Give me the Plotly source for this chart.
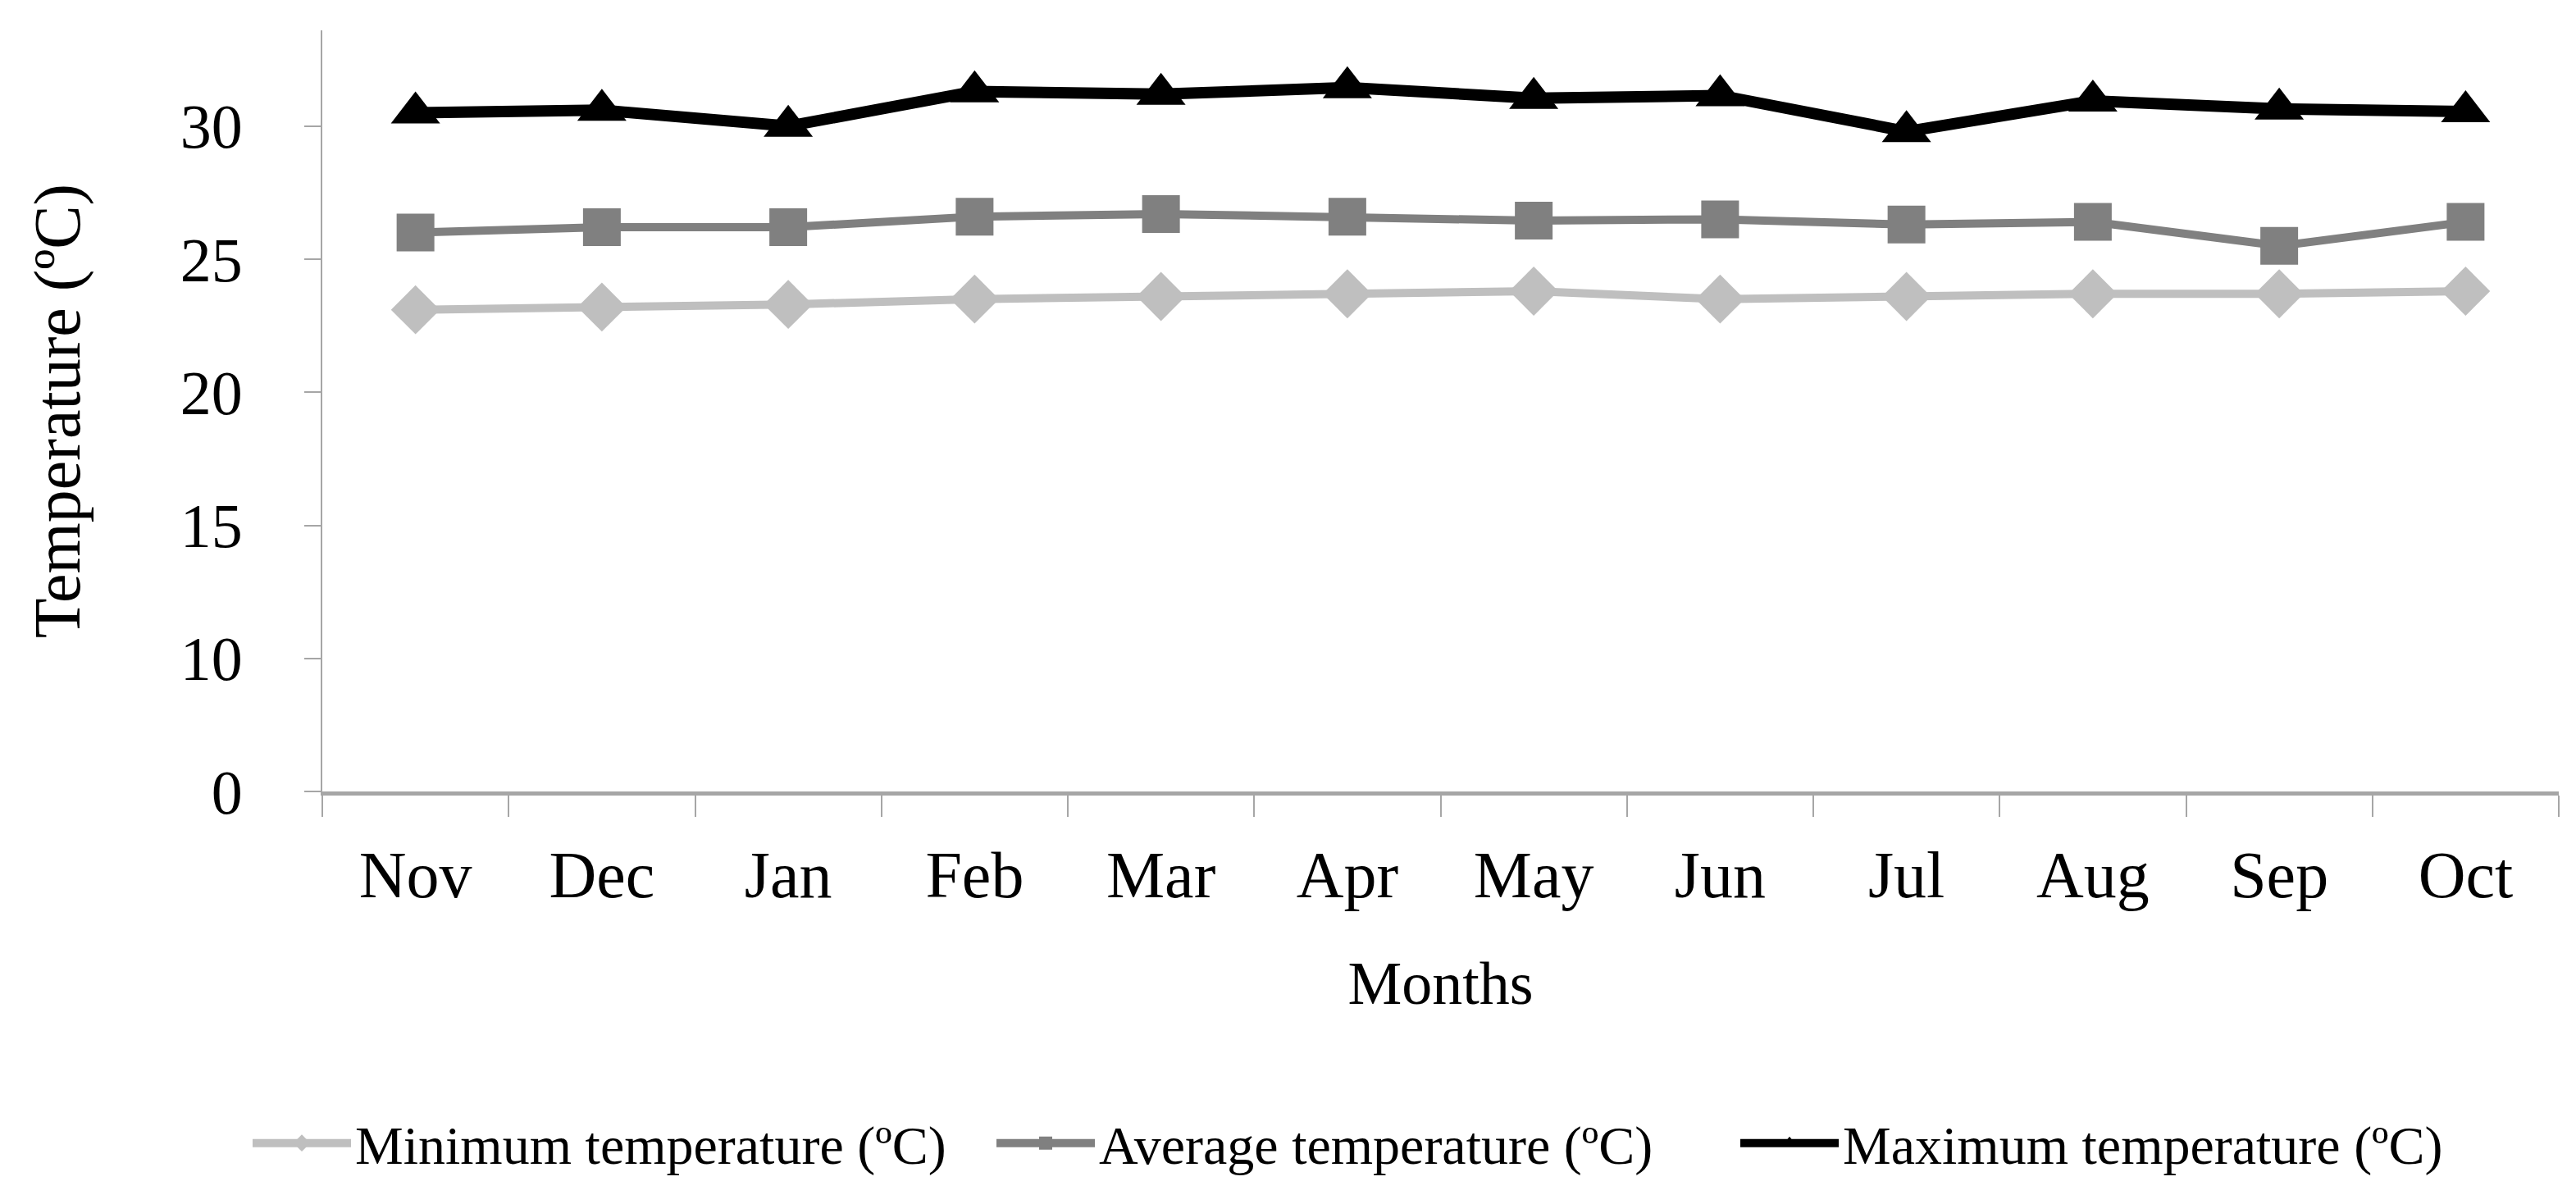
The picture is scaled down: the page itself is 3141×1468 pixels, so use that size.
import plotly.graph_objects as go

# --- Monthly temperatures ---
months = ["Nov", "Dec", "Jan", "Feb", "Mar", "Apr", "May", "Jun", "Jul", "Aug", "Sep", "Oct"]
min_temp = [23.1, 23.2, 23.3, 23.5, 23.6, 23.7, 23.8, 23.5, 23.6, 23.7, 23.7, 23.8]
avg_temp = [26.0, 26.2, 26.2, 26.6, 26.7, 26.6, 26.45, 26.5, 26.3, 26.4, 25.5, 26.4]
max_temp = [30.5, 30.6, 30.0, 31.3, 31.2, 31.45, 31.05, 31.15, 29.8, 30.95, 30.65, 30.55]

# y axis as drawn in the original: bottom tick is labelled "0"
y_tickvals = [5, 10, 15, 20, 25, 30]
y_ticktext = ["0", "10", "15", "20", "25", "30"]

FONT = "Liberation Serif"

fig = go.Figure()

fig.add_trace(go.Scatter(x=months, y=min_temp, mode="lines+markers",
                         name="Minimum temperature (ºC)",
                         line=dict(color="#BFBFBF", width=10),
                         marker=dict(symbol="diamond", size=46, color="#BFBFBF")))
fig.add_trace(go.Scatter(x=months, y=avg_temp, mode="lines+markers",
                         name="Average temperature (ºC)",
                         line=dict(color="#808080", width=10),
                         marker=dict(symbol="square", size=46, color="#808080")))
fig.add_trace(go.Scatter(x=months, y=max_temp, mode="lines+markers",
                         name="Maximum temperature (ºC)",
                         line=dict(color="#000000", width=14),
                         marker=dict(symbol="triangle-up", size=52, color="#000000")))

fig.update_layout(
    width=3141, height=1468,
    margin=dict(l=385, r=29, t=29, b=511),
    paper_bgcolor="white", plot_bgcolor="white",
    font=dict(family=FONT, color="black"),
    showlegend=True,
    legend=dict(orientation="h", x=-0.033, xanchor="left", y=-0.462, yanchor="middle",
                font=dict(size=66, family=FONT), itemwidth=120, entrywidth=772,
                tracegroupgap=0),
)

fig.update_xaxes(
    type="category", tickson="boundaries", range=[-0.5, 11.5],
    showline=True, linecolor="#A6A6A6", linewidth=5,
    ticks="outside", ticklen=26, tickwidth=2, tickcolor="#A6A6A6",
    tickfont=dict(size=80, family=FONT), ticklabelstandoff=28,
    showgrid=False, zeroline=False,
    title=dict(text="Months", font=dict(size=74, family=FONT), standoff=64),
)

fig.update_yaxes(
    range=[5, 33.6],
    tickvals=y_tickvals, ticktext=y_ticktext,
    showline=True, linecolor="#A6A6A6", linewidth=2,
    ticks="outside", ticklen=20, tickwidth=2, tickcolor="#A6A6A6",
    tickfont=dict(size=76, family=FONT), ticklabelstandoff=60,
    showgrid=False, zeroline=False,
    title=dict(text="Temperature (ºC)", font=dict(size=80, family=FONT), standoff=96),
)

fig.write_html("out.html")
